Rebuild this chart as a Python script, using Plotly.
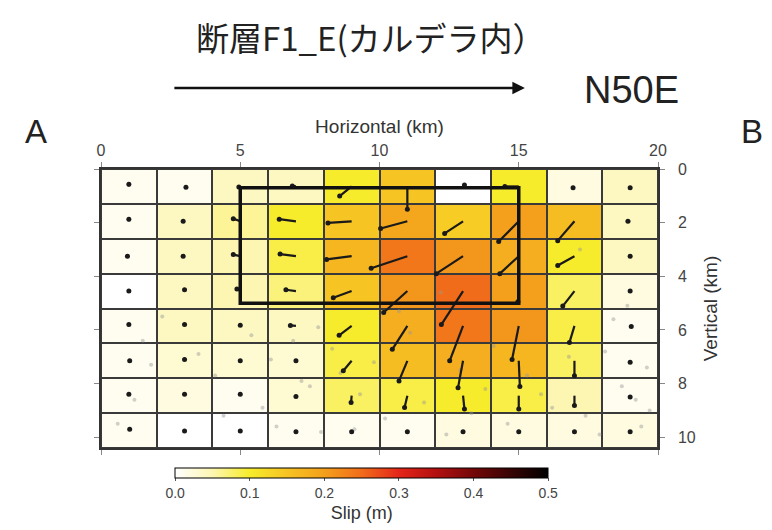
import plotly.graph_objects as go

# ---------------- data ----------------
X_CENTERS = [1, 3, 5, 7, 9, 11, 13, 15, 17, 19]          # km (cell width 2 km)
Y_CENTERS = [0.65, 1.95, 3.25, 4.55, 5.85, 7.15, 8.45, 9.75]  # km (cell height 1.3 km)

SLIP = [
    [0.01, 0.01, 0.04, 0.04, 0.10, 0.15, 0.00, 0.10, 0.02, 0.04],
    [0.01, 0.04, 0.06, 0.10, 0.15, 0.19, 0.14, 0.20, 0.16, 0.04],
    [0.01, 0.04, 0.05, 0.09, 0.17, 0.24, 0.21, 0.18, 0.10, 0.04],
    [0.00, 0.04, 0.05, 0.07, 0.15, 0.21, 0.25, 0.20, 0.08, 0.02],
    [0.01, 0.04, 0.04, 0.04, 0.10, 0.18, 0.24, 0.21, 0.09, 0.01],
    [0.01, 0.03, 0.03, 0.03, 0.09, 0.16, 0.18, 0.17, 0.08, 0.01],
    [0.01, 0.02, 0.01, 0.03, 0.08, 0.09, 0.10, 0.09, 0.05, 0.01],
    [0.01, 0.00, 0.00, 0.01, 0.01, 0.01, 0.02, 0.02, 0.02, 0.02],
]

# slip vectors (km on the plot), dy positive = deeper
ARROW_DX = [
    [0.00, 0.05, -0.05, -0.13, -0.43, 0.00, 0.05, -0.50, -0.05, 0.00],
    [0.00, -0.05, -0.25, -0.60, -0.85, -0.96, -0.66, -0.72, -0.60, -0.08],
    [-0.05, -0.05, -0.25, -0.57, -0.90, -1.30, -0.96, -0.68, -0.60, 0.00],
    [0.00, 0.00, -0.12, -0.36, -0.66, -0.85, -0.78, -0.03, -0.42, 0.00],
    [0.00, 0.00, 0.00, -0.20, -0.45, -0.54, -0.48, -0.24, -0.18, 0.04],
    [0.03, 0.00, 0.00, 0.00, -0.30, -0.30, -0.18, 0.04, 0.00, 0.00],
    [0.00, 0.00, 0.00, 0.00, -0.02, -0.10, 0.05, 0.00, 0.00, 0.00],
    [0.03, 0.00, 0.00, 0.00, 0.00, 0.00, 0.00, 0.00, 0.00, 0.00],
]
ARROW_DY = [
    [-0.08, 0.03, 0.02, -0.02, 0.36, 0.85, -0.05, 0.00, 0.05, 0.05],
    [-0.08, 0.00, -0.10, -0.08, 0.06, 0.27, 0.45, 0.75, 0.72, 0.00],
    [0.00, 0.00, -0.06, -0.08, 0.12, 0.45, 0.65, 0.65, 0.35, 0.00],
    [0.00, -0.05, -0.08, -0.05, 0.25, 0.80, 1.25, 0.40, 0.56, 0.00],
    [-0.05, -0.05, -0.03, -0.02, 0.35, 0.87, 1.30, 1.25, 0.62, 0.02],
    [0.00, -0.05, 0.00, 0.00, 0.37, 0.75, 1.00, 0.96, 0.56, 0.05],
    [-0.05, -0.05, -0.05, 0.03, 0.25, 0.44, 0.50, 0.50, 0.37, 0.05],
    [-0.05, 0.02, 0.02, 0.04, 0.04, 0.04, 0.04, 0.04, 0.04, 0.04],
]

# faint background events (hand-read approximate positions, km)
EQ_X = [1.2, 0.6, 1.8, 3.5, 4.4, 5.8, 6.3, 7.5, 7.9, 8.6, 9.3, 10.2, 11.6, 12.4,
        13.8, 14.6, 15.3, 16.2, 17.4, 18.1, 18.7, 19.4, 19.6, 6.9, 7.2, 8.3, 9.8,
        11.1, 12.9, 14.1, 16.8, 17.9, 18.4, 19.2, 5.4, 4.1, 2.2, 1.5, 13.3, 15.8,
        10.7, 12.2, 17.2, 18.9, 19.7, 9.1, 7.8, 6.1]
EQ_Y = [8.6, 9.5, 7.3, 6.9, 9.2, 8.9, 9.6, 8.1, 9.8, 7.6, 8.4, 9.3, 8.7, 9.9,
        8.2, 9.5, 7.7, 8.9, 9.2, 6.8, 8.1, 9.6, 7.4, 6.4, 7.9, 6.7, 7.2,
        6.1, 7.5, 6.6, 7.0, 9.9, 5.6, 8.6, 6.2, 7.7, 5.5, 6.4, 9.1, 8.4,
        5.3, 4.6, 3.0, 5.1, 9.0, 9.7, 5.9, 7.1]

BOX_X = [5, 15]
BOX_Y = [0.7, 5.0]

X_TICKS = [0, 5, 10, 15, 20]
Y_TICKS = [0, 2, 4, 6, 8, 10]
CB_TICKS = [0.0, 0.1, 0.2, 0.3, 0.4, 0.5]
CB_LABELS = ["0.0", "0.1", "0.2", "0.3", "0.4", "0.5"]

TITLE = "断層F1_E(カルデラ内）"
DIRECTION = "N50E"

# ---------------- figure ----------------
colorscale = [
    [0.0, "#ffffff"], [0.1, "#fdf6b2"], [0.2, "#f7ec2c"], [0.3, "#f6c423"],
    [0.4, "#f4a01c"], [0.5, "#f16c1a"], [0.6, "#e4261a"], [0.7, "#b31010"],
    [0.8, "#740808"], [0.9, "#380404"], [1.0, "#000000"],
]

fig = go.Figure()

fig.add_trace(go.Heatmap(
    x=X_CENTERS, y=Y_CENTERS, z=SLIP, zmin=0, zmax=0.5,
    colorscale=colorscale, xgap=2, ygap=2,
    colorbar=dict(
        orientation="h", x=0.468, xanchor="center", y=-0.072, yanchor="top",
        xpad=0, ypad=0,
        len=0.67, lenmode="fraction", thickness=10, outlinecolor="#000",
        outlinewidth=1, tickvals=CB_TICKS, ticktext=CB_LABELS,
        ticks="outside", ticklen=3, tickcolor="#555",
        tickfont=dict(family="Liberation Sans, Arial", size=14, color="#444"),
        title=dict(text="Slip (m)", side="bottom",
                   font=dict(family="Liberation Sans, Arial", size=18, color="#333")),
    ),
    hoverinfo="skip",
))

fig.add_trace(go.Scatter(x=EQ_X, y=EQ_Y, mode="markers",
                         marker=dict(color="rgba(150,150,150,0.45)", size=4),
                         hoverinfo="skip", showlegend=False))

lx, ly, hx, hy = [], [], [], []
for i, yc in enumerate(Y_CENTERS):
    for j, xc in enumerate(X_CENTERS):
        ex = xc + ARROW_DX[i][j]
        ey = yc + ARROW_DY[i][j]
        lx += [xc, ex, None]
        ly += [yc, ey, None]
        hx.append(ex)
        hy.append(ey)

fig.add_trace(go.Scatter(x=lx, y=ly, mode="lines",
                         line=dict(color="#1a1a1a", width=2.2),
                         hoverinfo="skip", showlegend=False))
fig.add_trace(go.Scatter(x=hx, y=hy, mode="markers",
                         marker=dict(color="#1a1a1a", size=5),
                         hoverinfo="skip", showlegend=False))

fig.add_shape(type="rect", x0=BOX_X[0], x1=BOX_X[1], y0=BOX_Y[0], y1=BOX_Y[1],
              line=dict(color="#111", width=3.5))

axis_font = dict(family="Liberation Sans, Arial", size=16, color="#444")
title_font = dict(family="Liberation Sans, Arial", size=19, color="#333")
fig.update_xaxes(range=[0, 20], side="top", tickvals=X_TICKS, ticks="outside",
                 ticklen=5, tickcolor="#888", tickfont=axis_font,
                 showgrid=False, zeroline=False, showline=True, linecolor="#333",
                 linewidth=1.5, mirror="ticks",
                 title=dict(text="Horizontal (km)", standoff=3, font=title_font))
fig.update_yaxes(range=[10.4, 0], side="right", tickvals=Y_TICKS, ticks="outside",
                 ticklen=5, tickcolor="#888", tickfont=axis_font,
                 ticklabelstandoff=10,
                 showgrid=False, zeroline=False, showline=True, linecolor="#333",
                 linewidth=1.5, mirror="ticks",
                 title=dict(text="Vertical (km)", standoff=9, font=title_font))

cjk = "Noto Sans CJK JP"
fig.add_annotation(text=TITLE, xref="paper", yref="paper", x=0.485, y=1.473,
                   xanchor="center", yanchor="middle",
                   showarrow=False, font=dict(family=cjk, size=33, color="#222"))
fig.add_annotation(text=DIRECTION, xref="paper", yref="paper", x=0.953, y=1.283,
                   xanchor="center", yanchor="middle",
                   showarrow=False, font=dict(family="Liberation Sans, Arial", size=38, color="#222"))
fig.add_annotation(text="A", xref="paper", yref="paper", x=-0.117, y=1.136,
                   xanchor="center", yanchor="middle",
                   showarrow=False, font=dict(family="Liberation Sans, Arial", size=33, color="#222"))
fig.add_annotation(text="B", xref="paper", yref="paper", x=1.169, y=1.136,
                   xanchor="center", yanchor="middle",
                   showarrow=False, font=dict(family="Liberation Sans, Arial", size=33, color="#222"))
fig.add_annotation(text="", xref="paper", yref="paper", x=0.761, y=1.29,
                   ax=-352, ay=0, showarrow=True, arrowhead=2, arrowsize=1,
                   arrowwidth=2.5, arrowcolor="#111")

fig.update_layout(
    width=764, height=522,
    margin=dict(l=93, r=114, t=161, b=82, autoexpand=False),
    plot_bgcolor="#3a3a3a", paper_bgcolor="#ffffff",
    showlegend=False,
)

fig.write_html("out.html")
